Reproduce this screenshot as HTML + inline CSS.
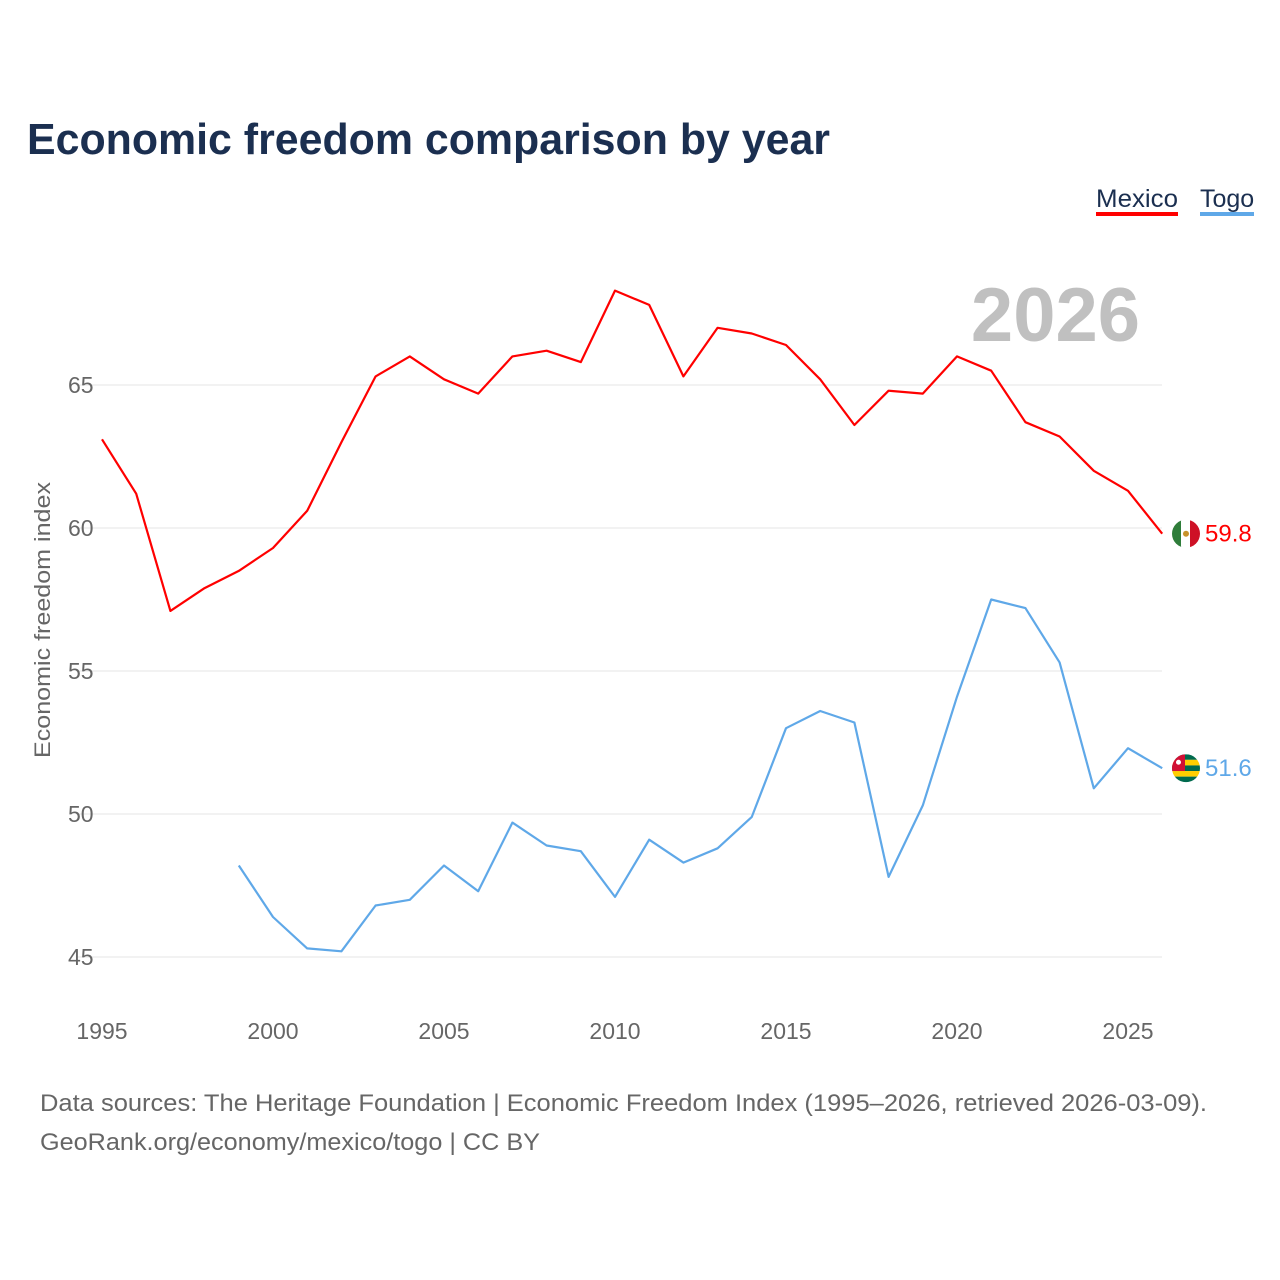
<!DOCTYPE html>
<html><head><meta charset="utf-8">
<style>
body{margin:0;background:#fff;font-family:"Liberation Sans",sans-serif;}
#wrap{position:relative;width:1280px;height:1280px;overflow:hidden;}
svg text{font-family:"Liberation Sans",sans-serif;}
</style></head><body>
<div id="wrap">
<svg id="chart" width="1280" height="1280">
  <text x="27" y="154" font-size="44" font-weight="bold" fill="#1b2f50" textLength="803" lengthAdjust="spacingAndGlyphs">Economic freedom comparison by year</text>
  <g>
    <text x="1096" y="207" font-size="25" fill="#1b2f50" textLength="82" lengthAdjust="spacingAndGlyphs">Mexico</text>
    <rect x="1096" y="212" width="82" height="4" fill="#ff0000"/>
    <text x="1200" y="207" font-size="25" fill="#1b2f50">Togo</text>
    <rect x="1200" y="212" width="54" height="4" fill="#5fa8e8"/>
  </g>
  <text x="1140" y="341" font-size="76" font-weight="bold" fill="#c0c0c0" text-anchor="end">2026</text>
  <text transform="translate(50,620) rotate(-90)" font-size="22" fill="#666" text-anchor="middle" textLength="276" lengthAdjust="spacingAndGlyphs">Economic freedom index</text>
  <g id="grid"></g><g id="series"></g>
  <text x="40" y="1111" font-size="24" fill="#666" textLength="1167" lengthAdjust="spacingAndGlyphs">Data sources: The Heritage Foundation | Economic Freedom Index (1995–2026, retrieved 2026-03-09).</text>
  <text x="40" y="1150" font-size="24" fill="#666" textLength="500" lengthAdjust="spacingAndGlyphs">GeoRank.org/economy/mexico/togo | CC BY</text>
</svg>
</div>
<script>
const years=[1995,1996,1997,1998,1999,2000,2001,2002,2003,2004,2005,2006,2007,2008,2009,2010,2011,2012,2013,2014,2015,2016,2017,2018,2019,2020,2021,2022,2023,2024,2025,2026];
const mexico=[63.1,61.2,57.1,57.9,58.5,59.3,60.6,63.0,65.3,66.0,65.2,64.7,66.0,66.2,65.8,68.3,67.8,65.3,67.0,66.8,66.4,65.2,63.6,64.8,64.7,66.0,65.5,63.7,63.2,62.0,61.3,59.8];
const togo=[null,null,null,null,48.2,46.4,45.3,45.2,46.8,47.0,48.2,47.3,49.7,48.9,48.7,47.1,49.1,48.3,48.8,49.9,53.0,53.6,53.2,47.8,50.3,54.1,57.5,57.2,55.3,50.9,52.3,51.6];
const yTicks=[45,50,55,60,65];
const xTicks=[1995,2000,2005,2010,2015,2020,2025];
const NS="http://www.w3.org/2000/svg";
function xs(y){return 102+(y-1995)*(1128-102)/30;}
function ys(v){return 385+(65-v)*28.6;}
function mk(tag,attrs,parent){const e=document.createElementNS(NS,tag);for(const k in attrs)e.setAttribute(k,attrs[k]);parent.appendChild(e);return e;}
const grid=document.getElementById('grid'),ser=document.getElementById('series');
yTicks.forEach(t=>{
  const l=mk('line',{x1:76,x2:1162,y1:ys(t),y2:ys(t),stroke:'#e6e6e6','stroke-width':1},grid);
  
  
  const tx=mk('text',{x:68,y:ys(t)+8,'font-size':23,fill:'#666'},grid);tx.textContent=t;
  
  
});
xTicks.forEach(t=>{
  const tx=mk('text',{x:xs(t),y:1039,'font-size':23,fill:'#666','text-anchor':'middle'},grid);tx.textContent=t;
  
  
});
function draw(vals,color,name){
  let d='';vals.forEach((v,i)=>{if(v==null)return;d+=(d?'L':'M')+xs(years[i]).toFixed(1)+','+ys(v).toFixed(1);});
  const p=mk('path',{d:d,fill:'none',stroke:color,'stroke-width':2.2,'stroke-linejoin':'round'},ser);
  
  
  const last=vals[vals.length-1];
  const t=mk('text',{x:1205,y:ys(last)+8,'font-size':24,fill:color},ser);t.textContent=last.toFixed(1);
  
  
  return ys(last);
}
const my=draw(mexico,'#ff0000','mexico');
const ty=draw(togo,'#5fa8e8','togo');
const fm=mk('g',{},ser);


const cpm=mk('clipPath',{id:'cm'},fm);mk('circle',{cx:1186,cy:my,r:14},cpm);
const gm=mk('g',{'clip-path':'url(#cm)'},fm);
mk('rect',{x:1172,y:my-14,width:10,height:28,fill:'#2f7d3a'},gm);
mk('rect',{x:1181,y:my-14,width:10,height:28,fill:'#fff'},gm);
mk('rect',{x:1190,y:my-14,width:10,height:28,fill:'#ce1126'},gm);
mk('circle',{cx:1186,cy:my,r:3,fill:'#c8922a'},gm);
const ft=mk('g',{},ser);


const cp=mk('clipPath',{id:'ct'},ft);mk('circle',{cx:1186,cy:ty,r:14},cp);
const gt=mk('g',{'clip-path':'url(#ct)'},ft);
for(let i=0;i<5;i++)mk('rect',{x:1172,y:ty-14+i*5.6,width:28,height:5.6,fill:i%2?'#ffce00':'#006a4e'},gt);
mk('rect',{x:1172,y:ty-14,width:13,height:16.8,fill:'#d21034'},gt);
mk('circle',{cx:1178.5,cy:ty-6,r:2.5,fill:'#fff'},gt);
</script>
</body></html>
